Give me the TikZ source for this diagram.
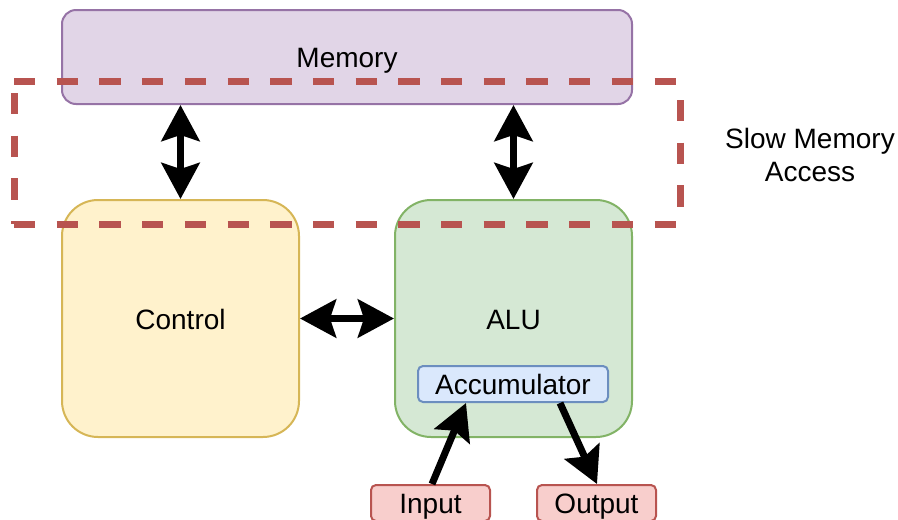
\documentclass[tikz,border=0pt]{standalone}
\usepackage{fontspec}
\setmainfont{Liberation Sans}
\usetikzlibrary{arrows.meta,calc}

\definecolor{memfill}{HTML}{E1D5E7}
\definecolor{memline}{HTML}{9673A6}
\definecolor{ctrlfill}{HTML}{FFF2CC}
\definecolor{ctrlline}{HTML}{D6B656}
\definecolor{alufill}{HTML}{D5E8D4}
\definecolor{aluline}{HTML}{82B366}
\definecolor{accfill}{HTML}{DAE8FC}
\definecolor{accline}{HTML}{6C8EBF}
\definecolor{iofill}{HTML}{F8CECC}
\definecolor{ioline}{HTML}{B85450}

\begin{document}
\begin{tikzpicture}[x=1pt,y=-1pt,
  every node/.style={font=\fontsize{28}{33}\selectfont},
  labeltext/.style={inner sep=0pt, text height=27pt, text depth=5.6pt},
  box/.style={draw, line width=2pt, labeltext},
  bigtip/.tip={Stealth[length=36pt,width=38pt,inset=6pt]},
  link/.style={line width=7pt, bigtip-bigtip},
  flow/.style={line width=7pt, -bigtip},
  slowzone/.style={draw=ioline, line width=7pt,
    dash pattern=on 21.35pt off 21.35pt}]
\useasboundingbox (0,0) rectangle (898,520);

% units
\node[box, fill=memfill, draw=memline, rounded corners=14pt,
  minimum width=570pt, minimum height=94pt] (mem) at (347,57) {Memory};
\node[box, fill=ctrlfill, draw=ctrlline, rounded corners=36pt,
  minimum width=237pt, minimum height=237pt] (ctrl) at (180.5,318.5) {Control};
\node[box, fill=alufill, draw=aluline, rounded corners=36pt,
  minimum width=237pt, minimum height=237pt] (alu) at (513.5,318.5) {};
\node[labeltext] (alulabel) at (513.5,318.5) {ALU};
\node[box, fill=accfill, draw=accline, rounded corners=5pt,
  minimum width=190pt, minimum height=36pt] (acc) at (513,384) {Accumulator};
\node[box, fill=iofill, draw=ioline, rounded corners=5pt,
  minimum width=119pt, minimum height=36pt] (inp) at (430.5,503) {Input};
\node[box, fill=iofill, draw=ioline, rounded corners=5pt,
  minimum width=119pt, minimum height=36pt] (out) at (596.5,503) {Output};
\node[align=center, inner sep=0pt] (slow) at (810,154.5) {Slow Memory\\Access};

% connections
\draw[link] (mem.south -| ctrl.north) -- (ctrl.north);
\draw[link] (mem.south -| alu.north) -- (alu.north);
\draw[link] (ctrl.east) -- (alu.west);
\draw[flow] ($(inp.north)+(1.5,0)$) -- ($(acc.south)+(-47,0)$);
\draw[flow] ($(acc.south)+(47,0)$) -- ($(out.north)+(0.5,0)$);

% slow memory access region
\draw[slowzone] (14,81) -- (680,81);
\draw[slowzone, dash phase=23.7pt] (680,81) -- (680,224);
\draw[slowzone] (14,224) -- (680,224);
\draw[slowzone, dash phase=30.7pt] (14,81) -- (14,224);
\end{tikzpicture}
\end{document}
